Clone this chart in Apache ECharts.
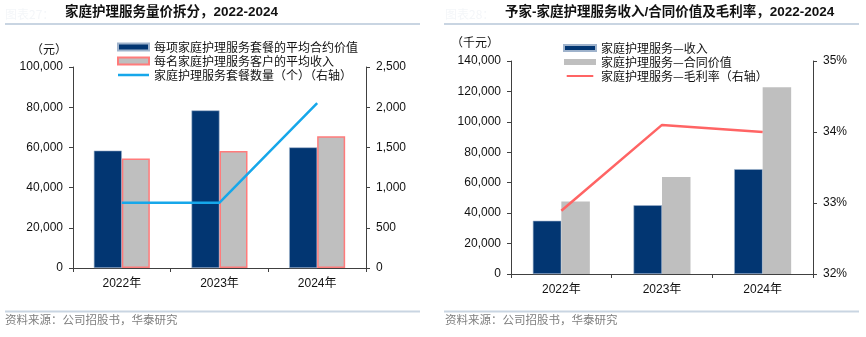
<!DOCTYPE html>
<html><head><meta charset="utf-8">
<script src="https://cdn.jsdelivr.net/npm/echarts@6/dist/echarts.min.js"></script>
<style>html,body{margin:0;padding:0;background:#fff}#c{width:866px;height:337px}</style>
</head><body><div id="c"></div>
<script>
// Left chart data
const categoriesL = ['2022年', '2023年', '2024年'];
const avgPackageValue = [58400, 78400, 60000];
const avgClientRevenue = [54500, 58200, 65600];
const packageCount = [812, 812, 2050];
const leftTicksL = [0, 20000, 40000, 60000, 80000, 100000];
const rightTicksL = [0, 500, 1000, 1500, 2000, 2500];
// Right chart data
const categoriesR = ['2022年', '2023年', '2024年'];
const serviceRevenue = [35000, 45200, 68900];
const contractValue = [47600, 63800, 122800];
const grossMargin = [32.89, 34.10, 34.00];

const numFont = '"Liberation Sans", Arial, sans-serif';
const cjkFont = '"Liberation Sans", "Noto Sans CJK SC", sans-serif';
const navy = '#023672';
const grey = '#bfbfbf';
const axisCol = '#404040';
const fmt = v => v.toLocaleString('en-US');
const lineIcon = 'path://M0,0L31,0Z M0,2.2L31,2.2L31,4.8L0,4.8Z M0,7L31,7Z';

function yAxis(gridIndex, min, max, interval, pos, formatter) {
  return {
    type: 'value', gridIndex, min, max, interval, position: pos,
    axisLine: {show: true, lineStyle: {color: axisCol, width: 1}},
    axisTick: {show: true, inside: false, length: 4, lineStyle: {color: axisCol}},
    splitLine: {show: false},
    axisLabel: {color: '#111', fontSize: 12, fontFamily: numFont, margin: 10, formatter}
  };
}
function xAxis(gridIndex, data) {
  return {
    type: 'category', gridIndex, data,
    axisLine: {lineStyle: {color: axisCol, width: 1}},
    axisTick: {show: true, length: 4, lineStyle: {color: axisCol}},
    axisLabel: {color: '#111', fontSize: 12, fontFamily: cjkFont, margin: 10}
  };
}
const legendText = {fontSize: 12, lineHeight: 14, fontFamily: '"Noto Sans CJK SC", sans-serif', color: '#111'};

const chart = echarts.init(document.getElementById('c'), null, {renderer: 'canvas'});
chart.setOption({
  animation: false,
  grid: [
    {left: 73, right: 500, top: 67, bottom: 69},
    {left: 511, right: 53, top: 61, bottom: 63}
  ],
  xAxis: [xAxis(0, categoriesL), xAxis(1, categoriesR)],
  yAxis: [
    yAxis(0, 0, 100000, 20000, 'left', v => fmt(v)),
    yAxis(0, 0, 2500, 500, 'right', v => fmt(v)),
    yAxis(1, 0, 140000, 20000, 'left', v => fmt(v)),
    yAxis(1, 32, 35, 1, 'right', v => v + '%')
  ],
  legend: [
    {
      left: 117, top: 40, orient: 'vertical', itemWidth: 31, itemHeight: 7, itemGap: 0,
      padding: 0, textStyle: legendText,
      data: [
        {name: '每项家庭护理服务套餐的平均合约价值', icon: 'rect'},
        {name: '每名家庭护理服务客户的平均收入', icon: 'rect'},
        {name: '家庭护理服务套餐数量（个）（右轴）', icon: lineIcon}
      ]
    },
    {
      left: 563, top: 41, orient: 'vertical', itemWidth: 32, itemHeight: 6, itemGap: 0,
      padding: 0, textStyle: legendText,
      data: [
        {name: '家庭护理服务—收入', icon: 'rect'},
        {name: '家庭护理服务—合同价值', icon: 'rect'},
        {name: '家庭护理服务—毛利率（右轴）', icon: lineIcon}
      ]
    }
  ],
  series: [
    {name: '每项家庭护理服务套餐的平均合约价值', type: 'bar', xAxisIndex: 0, yAxisIndex: 0,
     data: avgPackageValue, barWidth: 28, barGap: '0%',
     itemStyle: {color: navy, borderColor: '#9fb3cc', borderWidth: 0.6}},
    {name: '每名家庭护理服务客户的平均收入', type: 'bar', xAxisIndex: 0, yAxisIndex: 0,
     data: avgClientRevenue, barWidth: 28, barGap: '0%',
     itemStyle: {color: grey, borderColor: '#ff7b7b', borderWidth: 1.5}},
    {name: '家庭护理服务套餐数量（个）（右轴）', type: 'line', xAxisIndex: 0, yAxisIndex: 1,
     data: packageCount, symbol: 'none', lineStyle: {color: '#16a7ea', width: 2.5},
     itemStyle: {color: '#16a7ea'}},
    {name: '家庭护理服务—收入', type: 'bar', xAxisIndex: 1, yAxisIndex: 2,
     data: serviceRevenue, barWidth: 28.5, barGap: '0%',
     itemStyle: {color: navy, borderColor: '#9fb3cc', borderWidth: 0.6}},
    {name: '家庭护理服务—合同价值', type: 'bar', xAxisIndex: 1, yAxisIndex: 2,
     data: contractValue, barWidth: 28.5, barGap: '0%',
     itemStyle: {color: grey}},
    {name: '家庭护理服务—毛利率（右轴）', type: 'line', xAxisIndex: 1, yAxisIndex: 3,
     data: grossMargin, symbol: 'none', lineStyle: {color: '#ff6464', width: 2.5},
     itemStyle: {color: '#ff6464'}}
  ],
  graphic: [
    {type: 'text', left: 5, top: 8, style: {text: '图表27：', fill: '#f4f6f9', font: '12px "Noto Sans CJK SC"'}},
    {type: 'text', left: 445, top: 8, style: {text: '图表28：', fill: '#f4f6f9', font: '12px "Noto Sans CJK SC"'}},
    {type: 'text', left: 65, top: 6, style: {text: '家庭护理服务量价拆分，2022-2024', fill: '#111', font: 'bold 13.5px "Liberation Sans", "Noto Sans CJK SC"'}},
    {type: 'text', left: 505, top: 6, style: {text: '予家-家庭护理服务收入/合同价值及毛利率，2022-2024', fill: '#111', font: 'bold 13.5px "Liberation Sans", "Noto Sans CJK SC"'}},
    {type: 'rect', shape: {x: 5, y: 23, width: 415, height: 2}, style: {fill: '#c9d5e2'}},
    {type: 'rect', shape: {x: 444, y: 23, width: 415, height: 2}, style: {fill: '#c9d5e2'}},
    {type: 'rect', shape: {x: 5, y: 310.5, width: 415, height: 2}, style: {fill: '#c9d5e2'}},
    {type: 'rect', shape: {x: 444, y: 310.5, width: 415, height: 2}, style: {fill: '#c9d5e2'}},
    {type: 'text', left: 31, top: 43, style: {text: '（元）', fill: '#111', font: '12px "Noto Sans CJK SC"'}},
    {type: 'text', left: 451, top: 36, style: {text: '（千元）', fill: '#111', font: '12px "Noto Sans CJK SC"'}},
    {type: 'text', left: 5, top: 314, style: {text: '资料来源：公司招股书，华泰研究', fill: '#7f7f7f', font: '11.5px "Noto Sans CJK SC"'}},
    {type: 'text', left: 445, top: 314, style: {text: '资料来源：公司招股书，华泰研究', fill: '#7f7f7f', font: '11.5px "Noto Sans CJK SC"'}}
  ]
});
</script></body></html>
